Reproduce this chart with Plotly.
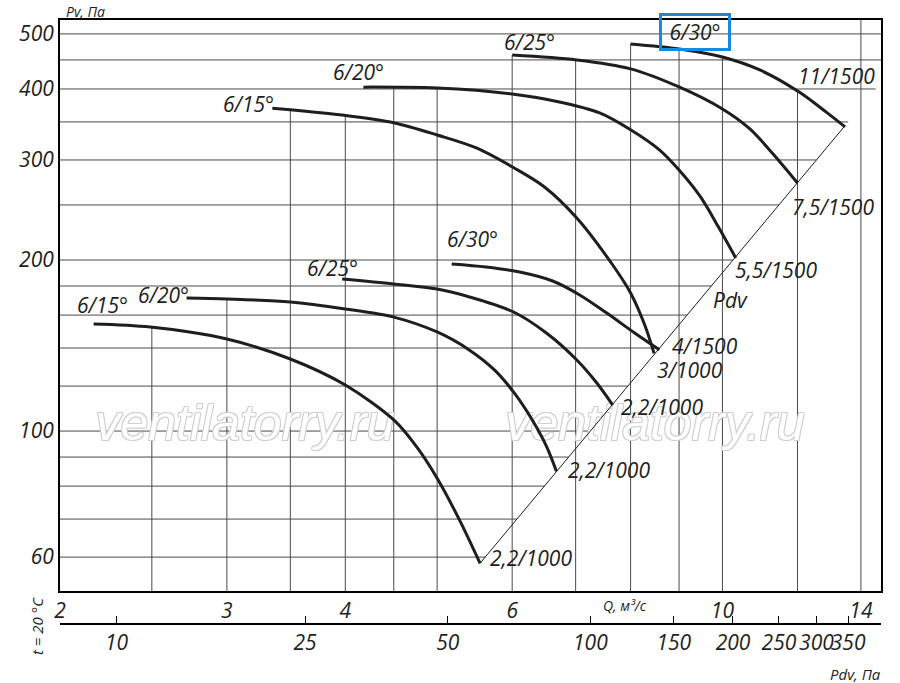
# Fan performance chart, size 6 (Pv vs Q, log-log)

import numpy as np
import plotly.graph_objects as go

# --- curve data: Q (m3/s), Pv (Pa) ---
# lower group (1000 rpm)
q_low_15 = [2.17, 2.49, 3.0, 3.5, 4.0, 4.5, 4.76, 5.0, 5.28, 5.55]
p_low_15 = [154.3, 152.4, 145.2, 133.9, 120.5, 104.6, 93.7, 82.6, 69.7, 58.5]
q_low_20 = [2.72, 3.0, 3.5, 4.0, 4.5, 5.0, 5.41, 5.75, 6.03, 6.30, 6.52, 6.68]
p_low_20 = [171.5, 170.8, 168.7, 164.0, 158.7, 149.4, 138.8, 128.0, 116.7, 104.6, 94.1, 85.0]
q_low_25 = [3.97, 4.5, 5.0, 5.41, 6.02, 6.52, 7.02, 7.37, 7.66]
p_low_25 = [185.2, 181.5, 177.8, 172.2, 162.0, 148.8, 133.4, 121.5, 111.1]
q_low_30 = [5.18, 5.63, 6.11, 6.62, 7.07, 7.55, 8.08, 8.58]
p_low_30 = [196.8, 194.4, 190.5, 183.7, 173.6, 161.3, 148.8, 139.0]

# upper group (1500 rpm)
q_high_15 = [3.35, 3.97, 4.51, 5.0, 5.5, 6.03, 6.49, 7.02, 7.66, 8.0, 8.28, 8.47]
p_high_15 = [370, 359.9, 348.5, 332, 315, 290.4, 268.9, 237.1, 196, 175, 153.7, 137]
q_high_20 = [4.18, 5.0, 6.0, 6.73, 7.42, 8.0, 8.58, 9.0, 9.47, 9.89, 10.33]
p_high_20 = [403, 401.5, 392, 379.5, 363, 339, 312.5, 288, 259, 229.6, 201.6]
q_high_25 = [6.0, 7.02, 8.0, 9.0, 10.0, 10.69, 11.5, 12.0]
p_high_25 = [459, 450, 434, 403.3, 368.9, 340.2, 297.6, 273.3]
q_high_30 = [8.0, 9.0, 10.0, 10.95, 12.05, 12.9, 13.47]
p_high_30 = [480, 470.4, 455.3, 432, 395, 363, 343]

start_labels = ['6/15°', '6/20°', '6/25°', '6/30°', '6/15°', '6/20°', '6/25°', '&nbsp;6/30°&nbsp;']
end_labels = ['2,2/1000', '2,2/1000', '2,2/1000', '3/1000',
              '4/1500', '5,5/1500', '7,5/1500', '11/1500']

# axes
q_ticks = [2, 3, 4, 6, 10, 14]
q_grid = [2.5, 3, 3.5, 4, 4.5, 5, 6, 7, 8, 9, 10, 12, 14]
p_ticks = [60, 100, 200, 300, 400, 500]
p_grid = [60, 70, 80, 90, 100, 120, 140, 160, 180, 200, 250, 300, 350, 400, 450, 500]
pdv_ticks = [10, 25, 50, 100, 150, 200, 250, 300, 350]
PDV_K = 1.9  # Pdv = k * Q^2

Q_MIN, Q_MAX = 2.0, 14.7
P_MIN, P_MAX = 52.3, 529

curves = [
    (q_low_15, p_low_15), (q_low_20, p_low_20), (q_low_25, p_low_25), (q_low_30, p_low_30),
    (q_high_15, p_high_15), (q_high_20, p_high_20), (q_high_25, p_high_25), (q_high_30, p_high_30),
]

# label offsets in pixels (start label, end label)
start_shift = [(9, 19), (-23, 3), (-10, 11), (21, 25), (-24, 4), (-5, 15), (17, 13), (64, 12)]
end_shift = [(51, 5), (53, 1), (49, -2), (31, -20), (51, 7), (40, -12), (36, -24), (-9, 51)]

INK = '#1e1e1e'
FONT = 'Open Sans'


# page pixel -> paper fraction
def px(x):
    return (x - 60) / 821


def py(y):
    return (683 - y) / 663


Y_DOMAIN = [py(591), 1]


# paper fraction -> data value on the log axes
def paper_to_q(fx):
    lo, hi = np.log10(Q_MIN), np.log10(Q_MAX)
    return 10 ** (lo + fx * (hi - lo))


def paper_to_p(fy):
    lo, hi = np.log10(P_MIN), np.log10(P_MAX)
    f = (fy - Y_DOMAIN[0]) / (Y_DOMAIN[1] - Y_DOMAIN[0])
    return 10 ** (lo + f * (hi - lo))


fig = go.Figure()

# vertical grid: from bottom up to the highest curve at that Q
gx, gy = [], []
for q in q_grid:
    tops = []
    for cq, cp in curves:
        if cq[0] <= q <= cq[-1]:
            tops.append(10 ** np.interp(np.log10(q), np.log10(cq), np.log10(cp)))
    top = max(tops) if tops else P_MAX
    gx += [q, q, None]
    gy += [P_MIN, top, None]

# horizontal grid: from left axis to the Pdv line
for p in p_grid:
    gx += [Q_MIN, min(np.sqrt(p / PDV_K), Q_MAX), None]
    gy += [p, p, None]

fig.add_trace(go.Scatter(x=gx, y=gy, mode='lines', line=dict(color='#4a4a4a', width=1),
                         hoverinfo='skip', showlegend=False))

# watermark, under the curves
wm = '#d0d0d0'
fig.add_trace(go.Scatter(
    x=[paper_to_q(px(245)), paper_to_q(px(655))], y=[paper_to_p(py(427))] * 2,
    mode='text', text=['ventilatorry.ru'] * 2, textposition='middle center',
    textfont=dict(family='Liberation Sans', size=50, color='white', style='italic',
                  shadow=f'-1px -1px 0 {wm}, 1px -1px 0 {wm}, -1px 1px 0 {wm}, 1px 1px 0 {wm}'),
    hoverinfo='skip', showlegend=False))

# Pdv diagonal through the curve end points
end_q = [c[0][-1] for c in curves]
dq = np.array([min(end_q), max(end_q)])
fig.add_trace(go.Scatter(x=dq, y=PDV_K * dq ** 2, mode='lines',
                         line=dict(color=INK, width=1), hoverinfo='skip', showlegend=False))

for cq, cp in curves:
    fig.add_trace(go.Scatter(x=cq, y=cp, mode='lines', showlegend=False,
                             line=dict(color=INK, width=3, shape='spline', smoothing=0.9)))

# invisible trace so the Pdv axis is drawn
fig.add_trace(go.Scatter(x=pdv_ticks, y=[None] * len(pdv_ticks), xaxis='x2', yaxis='y',
                         mode='markers', showlegend=False, hoverinfo='skip'))

label_font = dict(family=FONT, size=21, color=INK, style='italic')
annotations = []
for i, (cq, cp) in enumerate(curves):
    a = dict(x=np.log10(cq[0]), y=np.log10(cp[0]), xref='x', yref='y', text=start_labels[i],
             xshift=start_shift[i][0], yshift=start_shift[i][1], font=label_font)
    if i == 7:
        a.update(bordercolor='#1a8ad6', borderwidth=3, borderpad=2)
    annotations.append(a)
    annotations.append(dict(x=np.log10(cq[-1]), y=np.log10(cp[-1]), xref='x', yref='y',
                            text=end_labels[i],
                            xshift=end_shift[i][0], yshift=end_shift[i][1], font=label_font))

small = dict(family=FONT, size=14, color=INK, style='italic')
annotations += [
    dict(x=px(730), y=py(300), text='Pdv', font=label_font),
    dict(x=px(64), y=py(11), text='Pv, Па', font=small, xanchor='left'),
    dict(x=px(625), y=py(605), text='Q, м³/с', font=small),
    dict(x=px(883), y=py(674), text='Pdv, Па', font=dict(small, size=15), xanchor='right'),
    dict(x=px(37), y=py(626), text='t = 20 °C', font=dict(small, size=15), textangle=-90),
]
for a in annotations:
    a.setdefault('xref', 'paper')
    a.setdefault('yref', 'paper')
    a.setdefault('xanchor', 'center')
    a.setdefault('yanchor', 'middle')
    a['showarrow'] = False

tick_font = dict(family=FONT, size=21, color=INK, style='italic')
fig.update_layout(
    width=900, height=683,
    margin=dict(l=60, r=19, t=20, b=0),
    paper_bgcolor='white', plot_bgcolor='white',
    annotations=annotations,
    xaxis=dict(type='log', range=[np.log10(Q_MIN), np.log10(Q_MAX)], showgrid=False, zeroline=False,
               tickvals=q_ticks, ticktext=[str(v) for v in q_ticks], ticks='', tickfont=tick_font,
               tickangle=0, automargin=False,
               showline=True, linewidth=2, linecolor='black', mirror=True),
    yaxis=dict(type='log', range=[np.log10(P_MIN), np.log10(P_MAX)], domain=Y_DOMAIN,
               showgrid=False, zeroline=False, tickvals=p_ticks, ticks='', tickfont=tick_font,
               automargin=False,
               showline=True, linewidth=2, linecolor='black', mirror=True),
    xaxis2=dict(type='log', overlaying='x', anchor='free', position=py(624), side='bottom',
                range=[np.log10(PDV_K * Q_MIN ** 2), np.log10(PDV_K * Q_MAX ** 2)],
                tickvals=pdv_ticks, ticks='inside', ticklen=7, tickcolor='black', tickwidth=1,
                tickangle=0, automargin=False,
                showgrid=False, zeroline=False, tickfont=tick_font,
                showline=True, linewidth=2, linecolor='black'),
)

# drop the default page margin so the figure fills the window
fig.write_html("out.html", config={'displayModeBar': False},
               post_script="document.body.style.margin = '0';")
